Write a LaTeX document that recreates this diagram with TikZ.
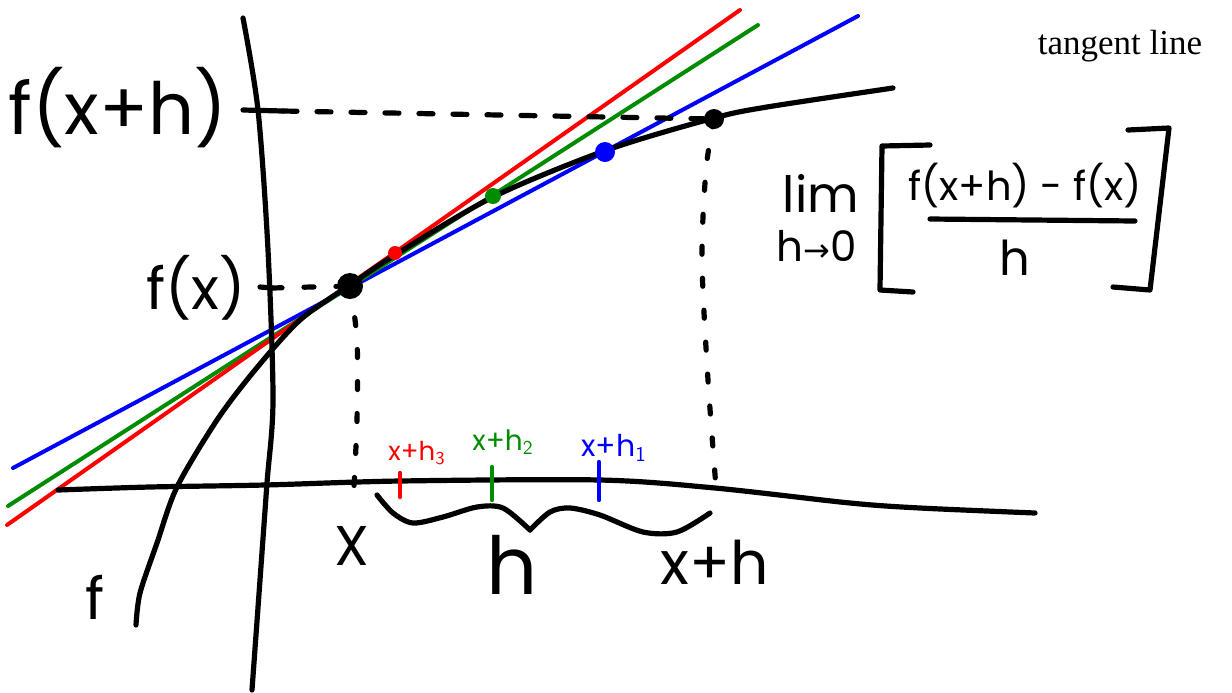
\documentclass[tikz,border=0pt]{standalone}
\usepackage{fontspec}
\newfontfamily\hand{Poppins}
\newfontfamily\serifx{Liberation Serif}
\newfontfamily\arrowfont{DejaVu Sans}
\definecolor{myred}{RGB}{255,0,0}
\definecolor{mygreen}{RGB}{0,140,0}
\definecolor{myblue}{RGB}{0,0,255}
\begin{document}
\begin{tikzpicture}[x=0.5pt,y=-0.5pt,
  ink/.style={line width=2.6pt, line cap=round, line join=round},
  tanline/.style={line width=2pt, line cap=round},
  dashh/.style={ink, dash pattern=on 7pt off 10pt},
  dotv/.style={ink, dash pattern=on 4pt off 12pt},
  tick/.style={line width=2.2pt, line cap=round},
  lbl/.style={inner sep=0pt, font=\hand},
  dot/.style={circle, fill, inner sep=0pt}]
\useasboundingbox (0,0) rectangle (1232,692);

% tangent lines
\draw[tanline, myblue] (13,468) -- (858,16);
\draw[tanline, mygreen] (8,506) -- (758,25);
\draw[tanline, myred] (7,525) -- (740,10);

% axes
\draw[ink] plot[smooth] coordinates {(243,18) (258,110) (268,250) (273,400) (267,483) (260,580) (252,690)};
\draw[ink] plot[smooth] coordinates {(58,490) (150,487) (265,485) (400,481) (600,480) (715,488) (850,503) (920,508) (1035,513)};

% function curve
\draw[ink] plot[smooth] coordinates {(136,625) (140,593) (157,543) (177,487) (217,420) (255,370) (300,320) (350,285) (395,255) (493,197) (607,150) (714,118) (767,107) (893,88)};

% points
\node[dot, minimum size=13pt] (px) at (350,286) {};
\node[dot, minimum size=10pt] (pxh) at (714,119) {};
\node[dot, myred, minimum size=7pt] (p3) at (395,253) {};
\node[dot, mygreen, minimum size=8pt] (p2) at (493,196) {};
\node[dot, myblue, minimum size=10pt] (p1) at (605,152) {};

% f(x+h) guide
\coordinate (fxhL) at (243,110);
\coordinate (fxhR) at (283,111);
\draw[ink] (fxhL) -- (fxhR);
\draw[dashh] (fxhR) -- (pxh);
% f(x) guide
\coordinate (fxL) at (260,287);
\coordinate (fxR) at (272,288);
\draw[ink] (fxL) -- (fxR);
\draw[dotv, dash pattern=on 5pt off 11pt] (fxR) -- (px);

% vertical guides
\coordinate (xb) at (353,505);
\draw[dotv] plot[smooth] coordinates {(px) (357,340) (357,420) (xb)};
\coordinate (xhb) at (717,500);
\draw[dotv] plot[smooth] coordinates {(pxh) (706,170) (702,260) (708,380) (xhb)};

% ticks
\draw[tick, myred] (400,473) -- (400,497);
\draw[tick, mygreen] (492,467) -- (492,500);
\draw[tick, myblue] (599,462) -- (599,500);

% brace
\draw[ink] plot[smooth] coordinates {(377,495) (393,513) (413,523) (443,517) (477,507) (503,508) (530,530)};
\draw[ink] plot[smooth] coordinates {(530,530) (550,512) (570,508) (600,515) (643,532) (677,532) (710,513)};

% labels
\node[lbl, font=\hand\fontsize{36}{40}\selectfont] (lfxh) at (118,108) {f(x+h)};
\node[lbl, font=\hand\fontsize{29}{32}\selectfont] (lfx) at (196,288) {f(x)};
\node[lbl, font=\hand\fontsize{28}{32}\selectfont] (lX) at (352,546) {X};
\node[lbl, font=\hand\fontsize{40}{44}\selectfont] (lh) at (512,565) {h};
\node[lbl, font=\hand\fontsize{30}{34}\selectfont] (lxh) at (715,562) {x+h};
\node[lbl, font=\hand\fontsize{29}{32}\selectfont] (lf) at (95,597) {f};

\node[lbl, myred, font=\hand\fontsize{13}{15}\selectfont] (l3) at (417,453) {x+h$_{\mathsf{3}}$};
\node[lbl, mygreen, font=\hand\fontsize{14}{16}\selectfont] (l2) at (503,442) {x+h$_{\mathsf{2}}$};
\node[lbl, myblue, font=\hand\fontsize{15}{17}\selectfont] (l1) at (614,448) {x+h$_{\mathsf{1}}$};

\node[lbl, font=\serifx\fontsize{17.5}{20}\selectfont] (tl) at (1120,46) {tangent line};

% limit expression
\node[lbl, font=\hand\fontsize{25}{28}\selectfont] (lim) at (821,193) {lim};
\node[lbl, font=\hand\fontsize{21}{24}\selectfont] (h0) at (817,246) {h{\arrowfont\fontsize{16}{18}\selectfont →}0};
\node[lbl, font=\hand\fontsize{20}{24}\selectfont] (num) at (1025,186) {f(x+h) - f(x)};
\node[lbl, font=\hand\fontsize{24}{28}\selectfont] (den) at (1015,258) {h};
\coordinate (barL) at (930,219);
\coordinate (barR) at (1135,221);
\draw[ink] (barL) -- (barR);
\coordinate (lbA) at (930,145);
\coordinate (lbB) at (882,146);
\coordinate (lbC) at (880,290);
\coordinate (lbD) at (913,292);
\draw[ink] (lbA) -- (lbB) -- (lbC) -- (lbD);
\coordinate (rbA) at (1128,130);
\coordinate (rbB) at (1169,128);
\coordinate (rbC) at (1150,290);
\coordinate (rbD) at (1113,287);
\draw[ink] (rbA) -- (rbB) -- (rbC) -- (rbD);
\end{tikzpicture}
\end{document}
